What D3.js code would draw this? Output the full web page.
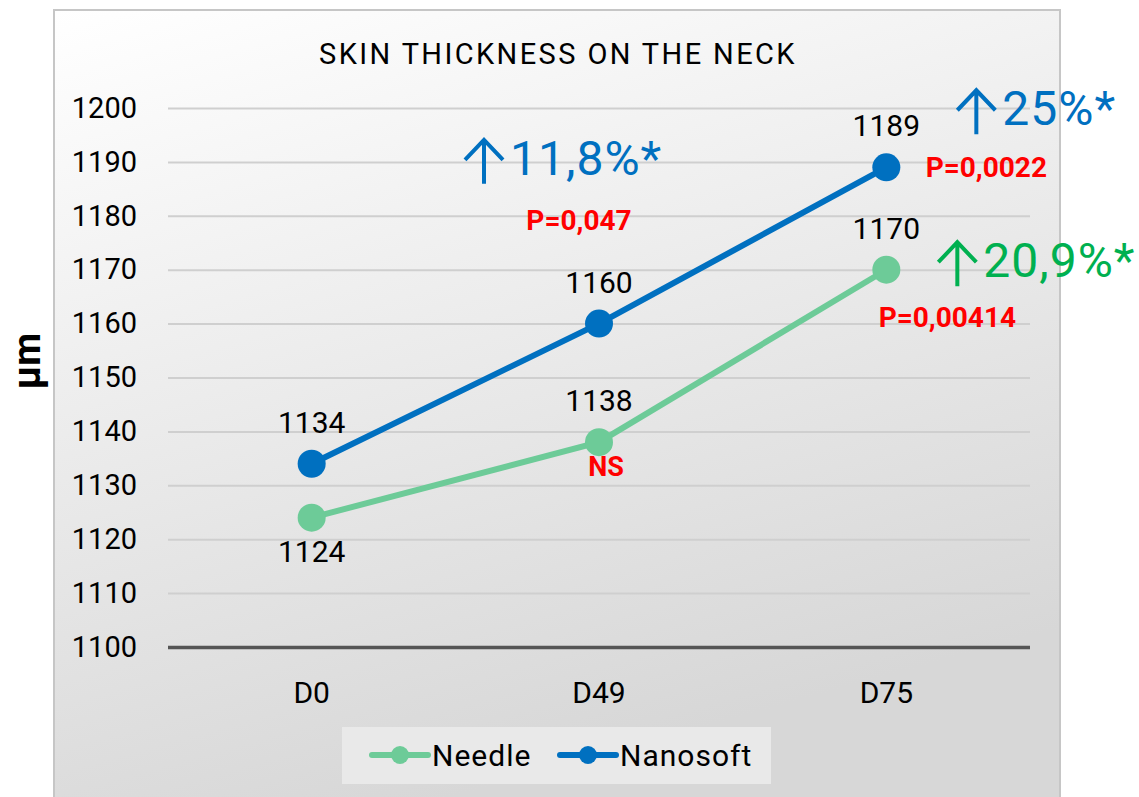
<!DOCTYPE html>
<html>
<head>
<meta charset="utf-8">
<script src="https://cdn.jsdelivr.net/npm/d3@7"></script>
<style>
  body { margin: 0; background: #fff; }
  text { font-family: Roboto, "DejaVu Sans", sans-serif; }
</style>
</head>
<body>
<div id="chart"></div>
<script>
/***** data *****/
var days = ["D0", "D49", "D75"];
var needle = [1124, 1138, 1170];
var nanosoft = [1134, 1160, 1189];
var yTicks = [1100, 1110, 1120, 1130, 1140, 1150, 1160, 1170, 1180, 1190, 1200];
var seriesNames = ["Needle", "Nanosoft"];
var gains = ["11,8%*", "25%*", "20,9%*"];
var pValues = ["P=0,047", "P=0,0022", "P=0,00414", "NS"];

/***** styles / layout *****/
var seriesColors = ["#6dcb98", "#0070c0"];
var gainColors = ["#0070c0", "#0070c0", "#00b050"];
//where each note sits: category, y in axis units (baseline), x offset from category centre
var gainPos = [["D49", 1187.6, -134], ["D75", 1196.8, 71], ["D75", 1168.6, 52]];
var pPos = [["D49", 1177.4, -20], ["D75", 1187.2, 100], ["D75", 1159.4, 61], ["D49", 1131.7, 7]];

var W = 1139, H = 797;
var plot = {left: 168, right: 1030, top: 108, bottom: 647};

var svg = d3.select("#chart").append("svg")
  .attr("width", W)
  .attr("height", H);

//background gradient
var grad = svg.append("defs").append("linearGradient")
  .attr("id", "bg")
  .attr("x1", "0").attr("y1", "0")
  .attr("x2", "0.35").attr("y2", "1");
grad.append("stop").attr("offset", "0%").attr("stop-color", "#ffffff");
grad.append("stop").attr("offset", "100%").attr("stop-color", "#d7d7d7");

svg.append("rect")
  .attr("x", 54).attr("y", 10)
  .attr("width", 1006).attr("height", 800)
  .attr("fill", "url(#bg)")
  .attr("stroke", "#c6c6c6")
  .attr("stroke-width", 2);

//scales
var x = d3.scaleBand()
  .domain(days)
  .range([plot.left, plot.right]);
var y = d3.scaleLinear()
  .domain([1100, 1200])
  .range([plot.bottom, plot.top]);
var cx = function(d) { return x(d) + x.bandwidth() / 2; };

//y axis with gridlines
var yAxis = d3.axisLeft(y)
  .tickValues(yTicks)
  .tickFormat(d3.format("d"))
  .tickSize(-(plot.right - plot.left))
  .tickPadding(31);
var gy = svg.append("g")
  .attr("transform", "translate(" + plot.left + ",0)")
  .call(yAxis);
gy.select(".domain").remove();
gy.selectAll(".tick line")
  .attr("stroke", function(d) { return d === 1100 ? "#555" : "#cfcfcf"; })
  .attr("stroke-width", function(d) { return d === 1100 ? 3.5 : 2; });
gy.selectAll(".tick text")
  .attr("font-size", 29)
  .attr("fill", "#000")
  .style("font-family", "Roboto, sans-serif");

//x axis
var xAxis = d3.axisBottom(x).tickSize(0).tickPadding(35);
var gx = svg.append("g")
  .attr("transform", "translate(0," + plot.bottom + ")")
  .call(xAxis);
gx.select(".domain").remove();
gx.selectAll(".tick text")
  .attr("font-size", 30)
  .attr("fill", "#000")
  .style("font-family", "Roboto, sans-serif");

//title
svg.append("text")
  .attr("x", 558).attr("y", 64)
  .attr("text-anchor", "middle")
  .attr("font-size", 29)
  .attr("letter-spacing", 2.4)
  .text("SKIN THICKNESS ON THE NECK");

//y label
svg.append("text")
  .attr("transform", "translate(40,361) rotate(-90)")
  .attr("text-anchor", "middle")
  .attr("font-size", 38)
  .attr("font-weight", "bold")
  .text("\u00b5m");

//lines
var line = d3.line()
  .x(function(d, i) { return cx(days[i]); })
  .y(function(d) { return y(d); });

[needle, nanosoft].forEach(function(vals, s) {
  svg.append("path")
    .datum(vals)
    .attr("d", line)
    .attr("fill", "none")
    .attr("stroke", seriesColors[s])
    .attr("stroke-width", 6);
  svg.selectAll(".pt" + s)
    .data(vals)
    .enter().append("circle")
    .attr("cx", function(d, i) { return cx(days[i]); })
    .attr("cy", function(d) { return y(d); })
    .attr("r", 14)
    .attr("fill", seriesColors[s]);
});

//value labels (needle D0 sits below its point)
[needle, nanosoft].forEach(function(vals, s) {
  svg.selectAll(".lab" + s)
    .data(vals)
    .enter().append("text")
    .attr("x", function(d, i) { return cx(days[i]); })
    .attr("y", function(d, i) {
      return (s === 0 && i === 0) ? y(d) + 44 : y(d) - 31;
    })
    .attr("text-anchor", "middle")
    .attr("font-size", 30)
    .attr("fill", "#000")
    .text(function(d) { return d; });
});

//gain notes: arrow + percentage
gains.forEach(function(t, i) {
  var p = gainPos[i];
  var left = cx(p[0]) + p[2];
  var base = y(p[1]);
  var g = svg.append("g").attr("fill", gainColors[i]).attr("stroke", gainColors[i]);
  //arrow
  g.append("path")
    .attr("d", "M" + (left + 19) + "," + (base + 9) + "V" + (base - 34) +
               "M" + left + "," + (base - 15) + "L" + (left + 19) + "," + (base - 35) +
               "L" + (left + 38) + "," + (base - 15))
    .attr("fill", "none")
    .attr("stroke-width", 4);
  g.append("text")
    .attr("x", left + 45)
    .attr("y", base)
    .attr("stroke", "none")
    .attr("font-size", 48)
    .attr("letter-spacing", 1)
    .text(t);
});

//p-value notes
svg.selectAll(".pval")
  .data(pValues)
  .enter().append("text")
  .attr("x", function(d, i) { return cx(pPos[i][0]) + pPos[i][2]; })
  .attr("y", function(d, i) { return y(pPos[i][1]); })
  .attr("text-anchor", "middle")
  .attr("font-size", function(d) { return d === "NS" ? 27 : 28; })
  .attr("font-weight", "bold")
  .attr("fill", "#ff0000")
  .text(function(d) { return d; });

//legend
var leg = svg.append("g");
leg.append("rect")
  .attr("x", 342).attr("y", 727)
  .attr("width", 429).attr("height", 57)
  .attr("fill", "#e9e9e9");
var legX = [372, 560];
seriesNames.forEach(function(name, s) {
  leg.append("line")
    .attr("x1", legX[s]).attr("x2", legX[s] + 56)
    .attr("y1", 755).attr("y2", 755)
    .attr("stroke", seriesColors[s])
    .attr("stroke-width", 6)
    .attr("stroke-linecap", "round");
  leg.append("circle")
    .attr("cx", legX[s] + 28).attr("cy", 755)
    .attr("r", 9)
    .attr("fill", seriesColors[s]);
  leg.append("text")
    .attr("x", legX[s] + 60).attr("y", 766)
    .attr("font-size", 30)
    .attr("letter-spacing", 1)
    .attr("fill", "#000")
    .text(name);
});
</script>
</body>
</html>
